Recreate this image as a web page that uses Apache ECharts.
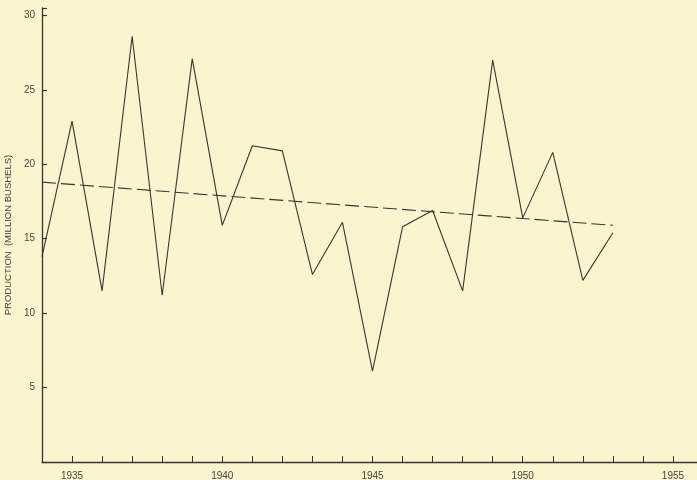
<!DOCTYPE html>
<html>
<head>
<meta charset="utf-8">
<script src="https://cdn.jsdelivr.net/npm/echarts@6/dist/echarts.min.js"></script>
<style>
  html, body { margin: 0; padding: 0; background: #faf4cf; }
  #chart { width: 697px; height: 480px; }
</style>
</head>
<body>
<div id="chart"></div>
<script>
// Annual production, million bushels
const years = [1934, 1935, 1936, 1937, 1938, 1939, 1940, 1941, 1942, 1943,
               1944, 1945, 1946, 1947, 1948, 1949, 1950, 1951, 1952, 1953];
const production = [13.8, 22.9, 11.5, 28.6, 11.2, 27.1, 15.9, 21.25, 20.9, 12.6,
                    16.1, 6.1, 15.8, 16.9, 11.5, 27.0, 16.4, 20.8, 12.2, 15.4];

// Linear trend end points
const trendYears = [1934, 1953];
const trendValues = [18.8, 15.9];

const ink = '#3b3629';
const labelInk = '#4a4538';
const font = 'Liberation Sans';

const chart = echarts.init(document.getElementById('chart'), null, { renderer: 'canvas' });
chart.setOption({
  backgroundColor: '#faf4cf',
  animation: false,
  grid: { left: 42, right: 0, top: 8, bottom: 18, containLabel: false, outerBoundsMode: 'none' },
  xAxis: {
    type: 'value',
    min: 1934,
    max: 1955.8,
    interval: 1,
    axisLine: { show: true, lineStyle: { color: ink, width: 1.3 } },
    axisTick: { show: true, inside: true, length: 6, lineStyle: { color: ink, width: 1 } },
    axisLabel: {
      color: labelInk,
      fontFamily: font,
      fontSize: 10,
      margin: 9,
      showMaxLabel: false,
      formatter: v => (v % 5 === 0 ? String(v) : '')
    },
    splitLine: { show: false }
  },
  yAxis: {
    type: 'value',
    min: 0,
    max: 30.5,
    interval: 5,
    name: 'PRODUCTION  (MILLION BUSHELS)',
    nameLocation: 'middle',
    nameGap: 27,
    nameRotate: 90,
    nameTextStyle: { color: labelInk, fontFamily: font, fontSize: 9.5 },
    axisLine: { show: true, lineStyle: { color: ink, width: 1.3 } },
    axisTick: { show: true, inside: true, length: 5, lineStyle: { color: ink, width: 1.2 } },
    axisLabel: {
      color: labelInk,
      fontFamily: font,
      fontSize: 10,
      margin: 7,
      formatter: v => (v % 5 === 0 && v > 0 ? String(v) : '')
    },
    splitLine: { show: false }
  },
  series: [
    {
      type: 'line',
      data: years.map((y, i) => [y, production[i]]),
      symbol: 'none',
      lineStyle: { color: ink, width: 1.1 }
    },
    {
      type: 'line',
      data: trendYears.map((y, i) => [y, trendValues[i]]),
      symbol: 'none',
      lineStyle: { color: ink, width: 1.1, type: [14, 5] }
    }
  ]
});
</script>
</body>
</html>
